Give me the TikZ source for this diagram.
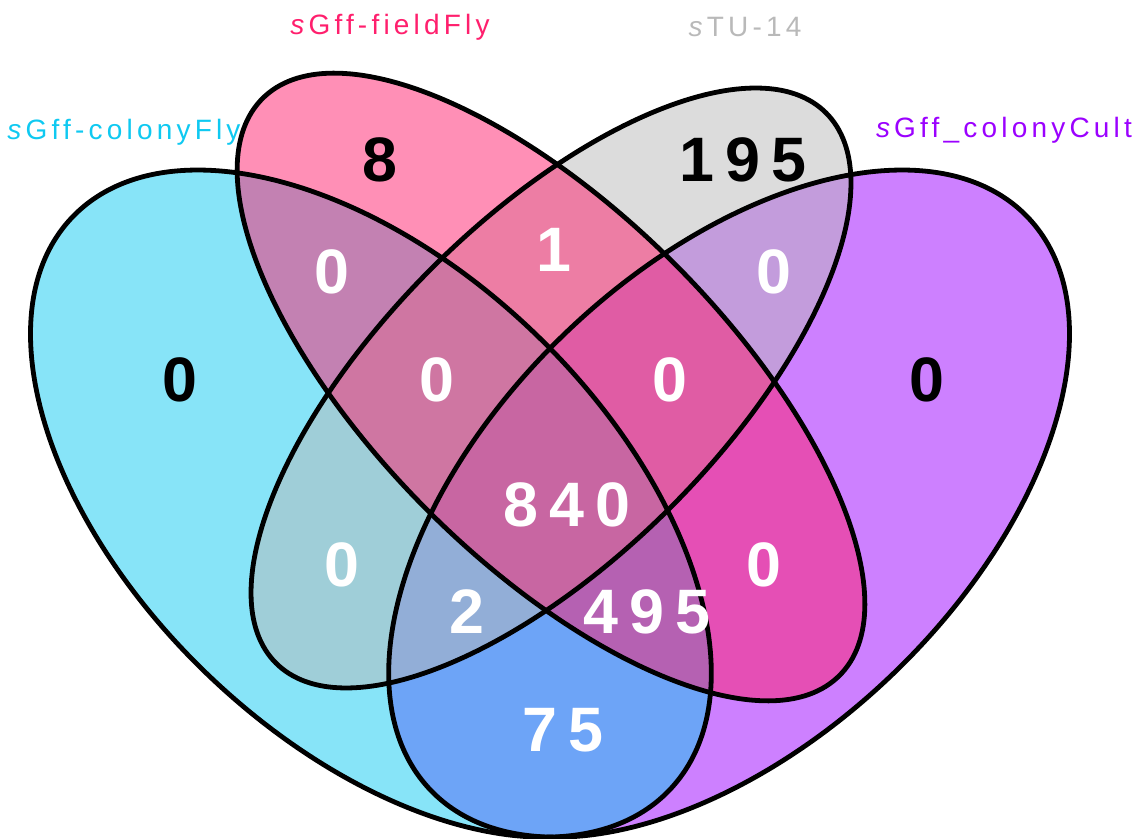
\documentclass[tikz,border=0pt]{standalone}
\usepackage{fontspec}
\setmainfont{Liberation Sans}
\definecolor{colA}{RGB}{15,201,241}
\definecolor{colB}{RGB}{255,31,109}
\definecolor{colC}{RGB}{185,185,185}
\definecolor{colD}{RGB}{155,1,255}
\tikzset{
  setfill/.style={fill=#1, fill opacity=0.5},
  setline/.style={draw=black, line width=2.4pt},
  setlabel/.style={text=#1, inner sep=0pt, font=\fontsize{14}{16}\selectfont\addfontfeatures{LetterSpace=15}},
  cnt/.style={text=#1, inner sep=0pt, font=\bfseries\fontsize{31.4}{36}\selectfont\addfontfeatures{LetterSpace=18}},
  ellA/.style={shift={(0.35,0.47)}, rotate=-45},
  ellD/.style={shift={(0.65,0.47)}, rotate=45},
  ellB/.style={shift={(275.5pt,-193.5pt)}, rotate=-45},
  ellC/.style={shift={(275.5pt,-194pt)}, rotate=45},
}
\begin{document}
\begin{tikzpicture}
\useasboundingbox (0,0) rectangle (570.5pt,-419.5pt);
% fills, in drawing order D, A, C, B
\begin{scope}[shift={(-23.5pt,-526.75pt)}, xscale=20.9821, yscale=20.5604]
  \fill[setfill=colD, ellD] (0,0) ellipse [x radius=0.35, y radius=0.2];
  \fill[setfill=colA, ellA] (0,0) ellipse [x radius=0.35, y radius=0.2];
\end{scope}
\fill[setfill=colC, ellC] (0,0) ellipse [x radius=194.5pt, y radius=84.5pt];
\fill[setfill=colB, ellB] (0,0) ellipse [x radius=204pt, y radius=87.25pt];
% outlines
\begin{scope}[shift={(-23.5pt,-526.75pt)}, xscale=20.9821, yscale=20.5604]
  \draw[setline, ellD] (0,0) ellipse [x radius=0.35, y radius=0.2];
  \draw[setline, ellA] (0,0) ellipse [x radius=0.35, y radius=0.2];
\end{scope}
\draw[setline, ellC] (0,0) ellipse [x radius=194.5pt, y radius=84.5pt];
\draw[setline, ellB] (0,0) ellipse [x radius=204pt, y radius=87.25pt];
\begin{scope}[x=0.5pt, y=-0.5pt]
  % set labels
  \node[setlabel=colA] (labA) at (124,132) {\textit{s}Gff-colonyFly};
  \node[setlabel=colB] (labB) at (390,27) {\textit{s}Gff-fieldFly};
  \node[setlabel=colC] (labC) at (745,27) {\textit{s}TU-14};
  \node[setlabel=colD] (labD) at (1004,130) {\textit{s}Gff\_colonyCult};
  % counts
  \node[cnt=black] (nA) at (180,380) {0};
  \node[cnt=black] (nB) at (380,160) {8};
  \node[cnt=black] (nC) at (743,160) {195};
  \node[cnt=black] (nD) at (927,380) {0};
  \node[cnt=white] (nAB) at (332,272) {0};
  \node[cnt=white] (nBC) at (554,250) {1};
  \node[cnt=white] (nCD) at (774,272) {0};
  \node[cnt=white] (nABC) at (437,380) {0};
  \node[cnt=white] (nBCD) at (670,380) {0};
  \node[cnt=white] (nABCD) at (567,505) {840};
  \node[cnt=white] (nAC) at (342,565) {0};
  \node[cnt=white] (nBD) at (764,565) {0};
  \node[cnt=white] (nACD) at (467,612) {2};
  \node[cnt=white] (nABD) at (647,612) {495};
  \node[cnt=white] (nAD) at (563,730) {75};
\end{scope}
\end{tikzpicture}
\end{document}
